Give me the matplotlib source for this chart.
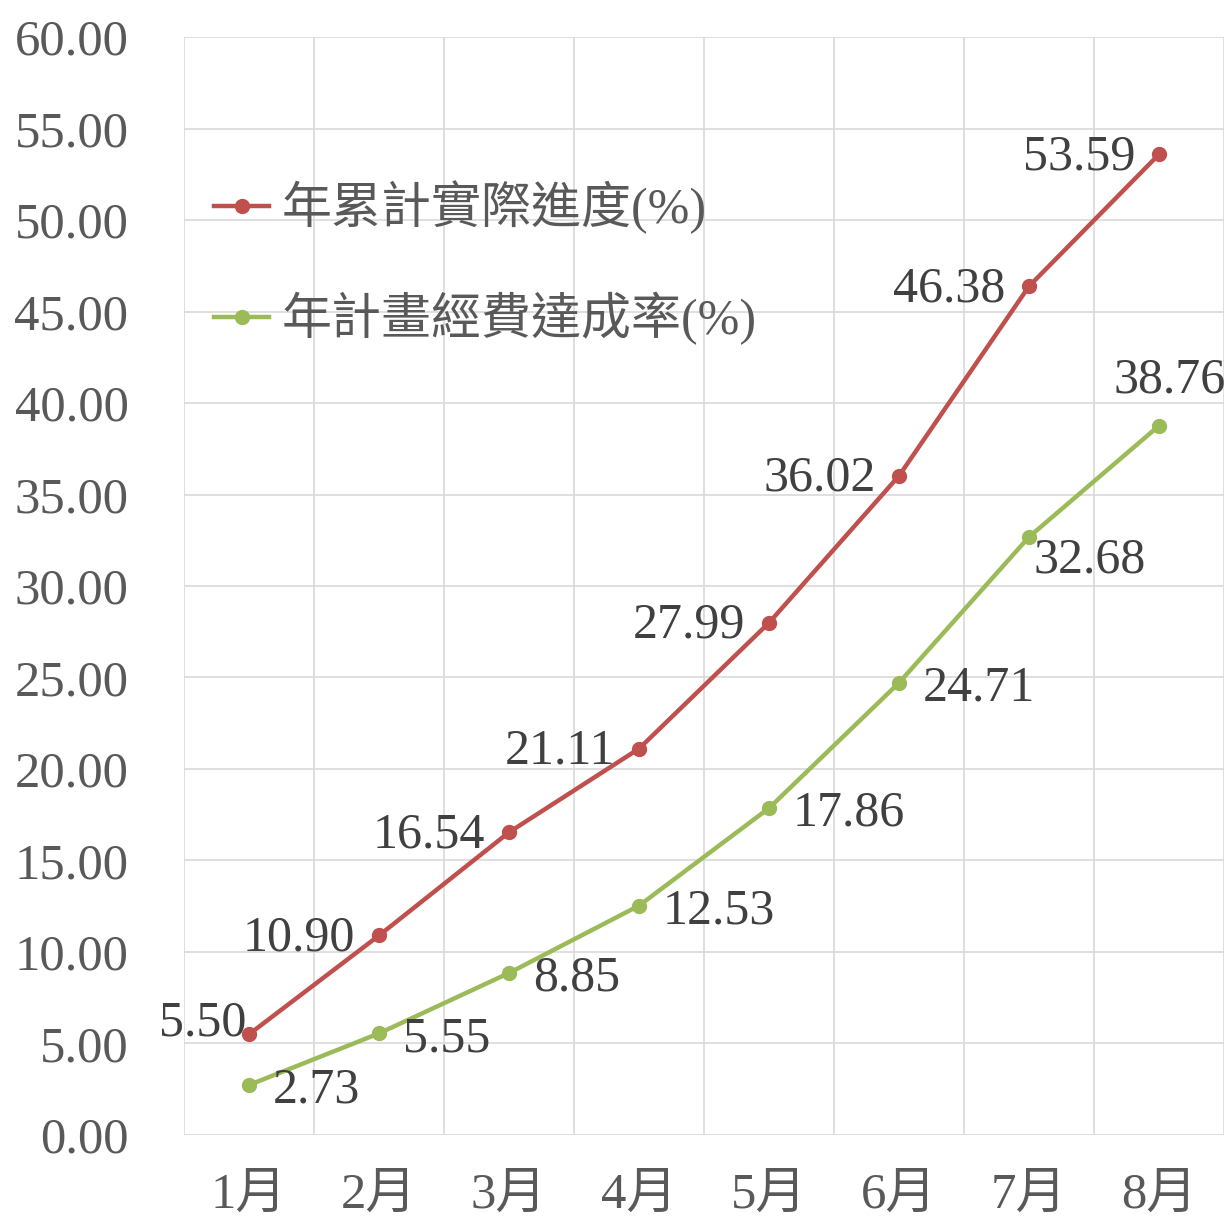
import numpy as np
import matplotlib
matplotlib.use("Agg")
import matplotlib.pyplot as plt

# ---- 資料
months = ["1月", "2月", "3月", "4月", "5月", "6月", "7月", "8月"]
actual_progress = [5.50, 10.90, 16.54, 21.11, 27.99, 36.02, 46.38, 53.59]
budget_rate = [2.73, 5.55, 8.85, 12.53, 17.86, 24.71, 32.68, 38.76]
name_actual = "年累計實際進度(%)"
name_budget = "年計畫經費達成率(%)"

FONT = ["Liberation Serif", "Noto Sans CJK TC", "DejaVu Sans"]
plt.rcParams["font.family"] = FONT

RED = "#C0504D"
GREEN = "#9BBB59"
TICK_C = "#595959"
LABEL_C = "#404040"
GRID_C = "#D9D9D9"

fig = plt.figure(figsize=(12.31, 12.23), dpi=100)
ax = fig.add_axes([0.1495, 0.0720, 0.8448, 0.8977])

x = np.arange(len(months))
ax.plot(x, actual_progress, color=RED, lw=3.2, marker="o", ms=10, label=name_actual, zorder=3)
ax.plot(x, budget_rate, color=GREEN, lw=3.2, marker="o", ms=10, label=name_budget, zorder=3)

# 數值標籤：紅線在左、綠線在右（個別點微調避免重疊）
red_off = {0: (-2, 8)}
green_off = {6: (3, -17), 7: (8, 16)}
for i, v in enumerate(actual_progress):
    dx, dy = red_off.get(i, (-17, -2))
    ax.annotate(f"{v:.2f}", (x[i], v), xytext=(dx, dy), textcoords="offset points",
                ha="right", va="center", fontsize=36, color=LABEL_C, zorder=4)
for i, v in enumerate(budget_rate):
    dx, dy = green_off.get(i, (17, -4))
    if i == len(budget_rate) - 1:
        ax.annotate(f"{v:.2f}", (x[i], v), xytext=(dx, dy), textcoords="offset points",
                    ha="center", va="bottom", fontsize=36, color=LABEL_C, zorder=4,
                    annotation_clip=False)
    else:
        ax.annotate(f"{v:.2f}", (x[i], v), xytext=(dx, dy), textcoords="offset points",
                    ha="left", va="center", fontsize=36, color=LABEL_C, zorder=4)

ax.set_xlim(-0.5, len(months) - 0.5)
ax.set_ylim(0, 60)
ax.set_yticks(np.arange(0, 61, 5))
ax.set_yticklabels([f"{t:.2f}" for t in np.arange(0, 61, 5)])
ax.set_xticks(x)
ax.set_xticklabels(months)
ax.set_xticks(np.arange(-0.5, len(months), 1), minor=True)

ax.grid(axis="y", which="major", color=GRID_C, lw=1.2)
ax.grid(axis="x", which="minor", color=GRID_C, lw=1.2)
ax.set_axisbelow(True)
for s in ax.spines.values():
    s.set_visible(False)

ax.tick_params(axis="both", which="both", length=0, colors=TICK_C, labelsize=36.5)
ax.tick_params(axis="y", pad=40)
ax.tick_params(axis="x", pad=27)

leg = ax.legend(loc="upper left", bbox_to_anchor=(0.029, 0.869), frameon=False,
                fontsize=36, handlelength=1.1, handletextpad=0.25, labelspacing=1.15,
                borderpad=0, borderaxespad=0)
for t in leg.get_texts():
    t.set_color(TICK_C)

fig.savefig("out.png", dpi=100)
